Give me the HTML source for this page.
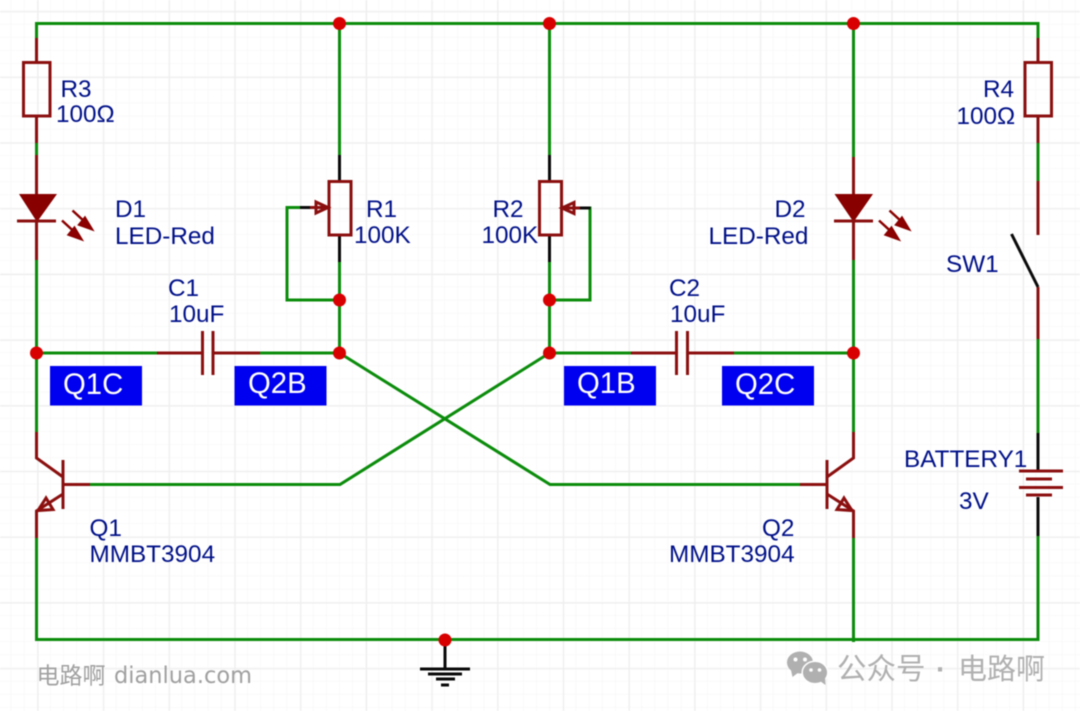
<!DOCTYPE html>
<html><head><meta charset="utf-8"><style>
html,body{margin:0;padding:0;background:#fff;width:1080px;height:711px;overflow:hidden}
svg{display:block;filter:blur(.4px)}
text{font-family:"Liberation Sans","Noto Sans CJK SC",sans-serif}
.t{font-size:24.3px;fill:#001088}
.w{font-size:29.3px;fill:#fff}
.g{fill:none;stroke:#0b8c0b;stroke-width:3}
.r{fill:none;stroke:#8b0f0f;stroke-width:3}
.k{fill:none;stroke:#0a0a0a;stroke-width:3}
</style></head><body>
<svg width="1080" height="711" viewBox="0 0 1080 711" xmlns="http://www.w3.org/2000/svg">
<defs>
<pattern id="m" width="13.14" height="13.14" patternUnits="userSpaceOnUse" x="11.2" y="11.2"><path d="M13.14 0V13.14M0 13.14H13.14" stroke="#f4f4f4" stroke-width="1" fill="none"/></pattern>
<pattern id="M" width="65.7" height="65.7" patternUnits="userSpaceOnUse" x="37.5" y="11.2"><path d="M.5 0V65.7M0 .5H65.7" stroke="#eeeeee" stroke-width="1.2" fill="none"/></pattern>
</defs>
<rect width="1080" height="711" fill="#fff"/>
<rect width="1080" height="711" fill="url(#m)"/>
<rect width="1080" height="711" fill="url(#M)"/>

<!-- green wires -->
<path class="g" d="M36.5 38V23.5H1038V38"/>
<path class="g" d="M36.5 143V155M36.5 260V432M36.5 538V639.5H1038V536"/>
<path class="g" d="M339.5 23.5V155M339.5 262V353M549.5 23.5V155M549.5 262V353M853.5 23.5V157M853.5 260V432M853.5 538V642"/>
<path class="g" d="M1038 143V181M1038 339V433"/>
<path class="g" d="M339.5 300H287V207.5H300M549.5 300H590V208H580"/>
<path class="g" d="M36.5 353H157M260 353H339.5M549.5 353H631M734 353H853.5"/>
<path class="g" d="M90 484.5H340L549.5 353M339.5 353L550 484.5H800"/>

<!-- red components -->
<path class="r" d="M36.5 38V62M36.5 116V143M36.5 155V194M36.5 221V260"/>
<rect class="r" x="23.5" y="62.5" width="26.5" height="53.5"/>
<path class="r" d="M1038 38V62M1038 116V143M1038 181V235M1038 287V339"/>
<rect class="r" x="1025" y="62.5" width="26.5" height="53.5"/>
<path class="r" d="M853.5 157V194M853.5 221V260"/>
<path d="M19 194H57L37 222Z" fill="#880000"/>
<path class="r" d="M17 221H56"/>
<path d="M834.500 194H873L853.500 222Z" fill="#880000"/>
<path class="r" d="M834 221H873"/>
<!-- LED light arrows -->
<g fill="#8b0000" stroke="#8b0000" stroke-width="2.500">
<path d="M72.500 210.500L85 222" fill="none"/><path d="M93.500 230.500L78 225L85 216.500Z" stroke-width="1"/>
<path d="M62 220.500L74.500 232" fill="none"/><path d="M83 240.500L67.500 235L74.500 226.500Z" stroke-width="1"/>
<path d="M889.500 210.500L902 222" fill="none"/><path d="M910.500 230.500L895 225L902 216.500Z" stroke-width="1"/>
<path d="M879 220.500L891.500 232" fill="none"/><path d="M900 240.500L884.500 235L891.500 226.500Z" stroke-width="1"/>
</g>
<!-- pots -->
<path class="k" d="M339.500 155V181M339.500 235V262M549.500 155V181M549.500 235V262M300 207.500H310M580 208H590.500"/>
<rect class="r" x="329" y="181.500" width="22" height="53.500"/>
<rect class="r" x="539.500" y="181.500" width="22" height="53.500"/>
<path class="r" d="M310 207.500H328M316 202L328 207.500L316 213ZM580 208H562M574 202.500L562 208L574 213.500Z" fill="#fff"/>
<!-- capacitors -->
<path class="r" d="M157 353H202.500M213 353H260M202.500 331V375M213 331V375"/>
<path class="r" d="M631 353H676.500M687.500 353H734M676.500 331V375M687.500 331V375"/>
<!-- transistors -->
<path class="r" d="M36.500 432V458L63 477M63 460V509M63 484.500H90M63 494L36.500 511V538"/>
<path class="r" d="M46 498L38 510.500L53 509.500Z" fill="#fff"/>
<path class="r" d="M853.500 432V458L827 477M827 460V509M827 484.500H800M827 494L853.500 511V538"/>
<path class="r" d="M844 498L852 510.500L837 509.500Z" fill="#fff"/>
<!-- switch and battery -->
<path class="k" d="M1011.500 234L1038 287"/>
<path class="k" d="M1038 433V471M1038 497V536"/>
<path class="r" d="M1019 471H1063M1026 479H1052M1019 487.500H1063M1026 495H1052"/>
<!-- ground -->
<path class="k" d="M445 640V669M420 669H470M428 674H462M436 679H455M441 685H449"/>
<!-- junctions -->
<g fill="#d80000"><circle cx="339.500" cy="23.500" r="6.500"/><circle cx="549.500" cy="23.500" r="6.500"/><circle cx="853.500" cy="23.500" r="6.500"/><circle cx="339.500" cy="300" r="6.500"/><circle cx="549.500" cy="300" r="6.500"/><circle cx="36.500" cy="353" r="6.500"/><circle cx="339.500" cy="353" r="6.500"/><circle cx="549.500" cy="353" r="6.500"/><circle cx="853.500" cy="353" r="6.500"/><circle cx="445" cy="640" r="6.500"/></g>

<!-- labels -->
<g fill="#0000f0"><rect x="50" y="366" width="92" height="39.500"/><rect x="234.500" y="366" width="92" height="39.500"/><rect x="564" y="366" width="92" height="39.500"/><rect x="722" y="366" width="92" height="39.500"/></g>
<text class="w" x="63" y="394">Q1C</text><text class="w" x="248" y="393">Q2B</text><text class="w" x="577" y="393">Q1B</text><text class="w" x="735" y="394">Q2C</text>
<text class="t" x="60.500" y="97">R3</text><text class="t" x="56" y="122">100Ω</text>
<text class="t" x="115" y="217">D1</text><text class="t" x="115" y="244">LED-Red</text>
<text class="t" x="366" y="217">R1</text><text class="t" x="354" y="243">100K</text>
<text class="t" x="492.500" y="217">R2</text><text class="t" x="481.500" y="243">100K</text>
<text class="t" x="774.500" y="217">D2</text><text class="t" x="708.500" y="244">LED-Red</text>
<text class="t" x="983" y="97">R4</text><text class="t" x="956.500" y="124">100Ω</text>
<text class="t" x="168" y="296">C1</text><text class="t" x="169" y="322">10uF</text>
<text class="t" x="669" y="296">C2</text><text class="t" x="670" y="322">10uF</text>
<text class="t" x="946" y="272">SW1</text>
<text class="t" x="904" y="467">BATTERY1</text>
<text class="t" x="959" y="509">3V</text>
<text class="t" x="89.500" y="536">Q1</text><text class="t" x="89.500" y="562">MMBT3904</text>
<text class="t" x="762" y="536">Q2</text><text class="t" x="669" y="562">MMBT3904</text>
<!-- watermark -->
<text x="36.500" y="683.500" font-size="23" fill="#a0a0a0">电路啊</text>
<text x="114" y="683" font-size="23.500" fill="#a0a0a0" style="font-family:'DejaVu Sans',sans-serif" textLength="138" lengthAdjust="spacingAndGlyphs">dianlua.com</text>
<g fill="#b0b0b0">
<ellipse cx="800" cy="662.500" rx="13" ry="11"/><path d="M791 670L792.500 677L799 672Z"/>
<ellipse cx="815" cy="672.500" rx="12.800" ry="11.200" stroke="#fff" stroke-width="1.500"/><path d="M820 681L825.500 685L825 677Z"/>
</g>
<g fill="#fff"><circle cx="795.500" cy="659.500" r="2"/><circle cx="805" cy="659.500" r="2"/><circle cx="811" cy="670" r="1.800"/><circle cx="819.500" cy="670" r="1.800"/></g>
<text x="837" y="679" font-size="29.500" fill="#b0b0b0">公众号</text>
<text x="936" y="679" font-size="29" fill="#b0b0b0" font-weight="bold">·</text>
<text x="958" y="679" font-size="29" fill="#b0b0b0">电路啊</text>
</svg>
</body></html>
